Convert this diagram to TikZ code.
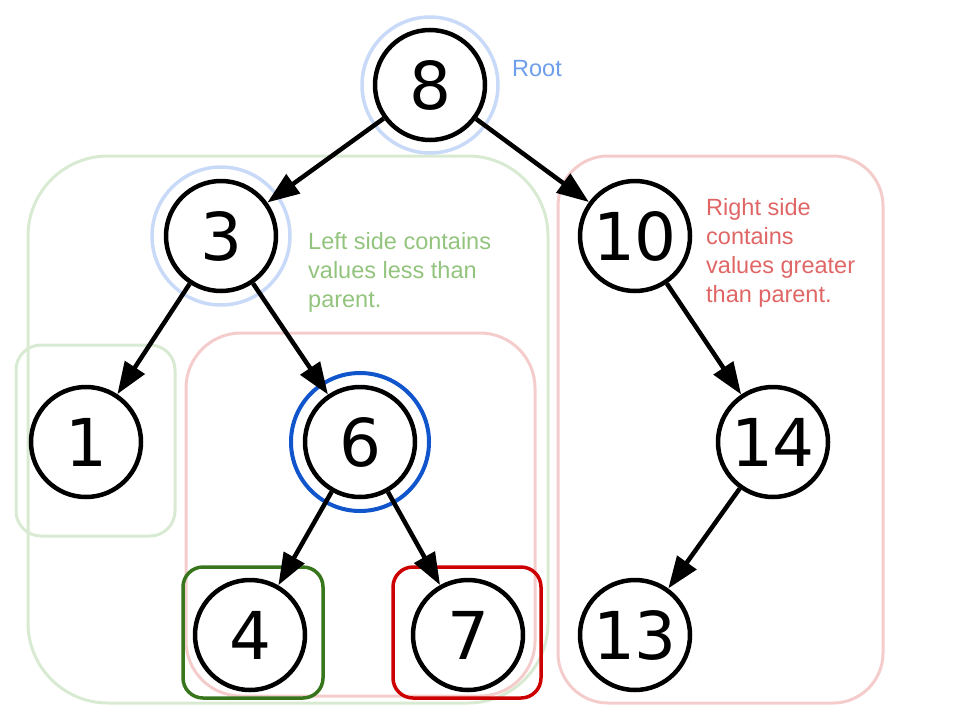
\documentclass[tikz,border=0pt]{standalone}
\usepackage{fontspec}
\setmainfont{Liberation Sans}
\newfontfamily\numfont{DejaVu Sans}
\usetikzlibrary{arrows.meta}
\definecolor{haloblue}{HTML}{C9DAF8}
\definecolor{nodeblue}{HTML}{1155CC}
\definecolor{rootblue}{HTML}{6D9EEB}
\definecolor{lightgreen}{HTML}{D9EAD3}
\definecolor{lightred}{HTML}{F4CCCC}
\definecolor{darkgreen}{HTML}{38761D}
\definecolor{darkred}{HTML}{CC0000}
\definecolor{notegreen}{HTML}{93C47D}
\definecolor{notered}{HTML}{E06666}

\begin{document}
\begin{tikzpicture}[x=1pt, y=-1pt, >={Triangle[length=32pt,width=23pt]},
  n/.style={circle, draw, line width=4.5pt, minimum size=110pt, inner sep=0pt, font=\numfont\fontsize{66}{66}\selectfont},
  halo/.style={circle, draw=#1, line width=3.5pt, minimum size=138pt, inner sep=0pt},
  box/.style={draw=#1, line width=3pt},
  note/.style={font=\fontsize{23.5}{29}\selectfont, align=left, anchor=base west, inner sep=0pt}]
\useasboundingbox (0,0) rectangle (960,720);
% regions
\draw[box=lightgreen, rounded corners=80pt] (28,156) rectangle (548,703);
\draw[box=lightred, rounded corners=50pt] (558,156) rectangle (883,703);
\draw[box=lightgreen, rounded corners=25pt] (16,345) rectangle (175,536);
\draw[box=lightred, rounded corners=55pt] (186,333) rectangle (535,696);
\draw[box=darkgreen, line width=3.5pt, rounded corners=20pt] (183,567) rectangle (323,698);
\draw[box=darkred, line width=3.5pt, rounded corners=20pt] (393,567) rectangle (541,698);
% tree
\foreach \v/\x/\y in {8/430/85, 3/221/236, 10/635/236, 1/86/442, 6/360/442, 14/773/442, 4/250/635, 7/468/635, 13/635/635}
  \node[n] (n\v) at (\x,\y) {\v};
\node[halo=haloblue, minimum size=136pt] (h8) at (n8) {};
\node[halo=haloblue] (h3) at (n3) {};
\node[halo=nodeblue, line width=4pt] (h6) at (n6) {};
\foreach \a/\b in {8/3, 8/10, 3/1, 3/6, 6/4, 6/7, 10/14, 14/13}
  \draw[->, line width=4.5pt] (n\a) -- (n\b);
% labels (anchored at last baseline)
\node[note, text=rootblue] (lroot) at (512,76) {Root};
\node[note, text=notegreen] (lleft) at (308,307) {Left side contains\\values less than\\parent.};
\node[note, text=notered] (lright) at (706,302) {Right side\\contains\\values greater\\than parent.};
\end{tikzpicture}
\end{document}
